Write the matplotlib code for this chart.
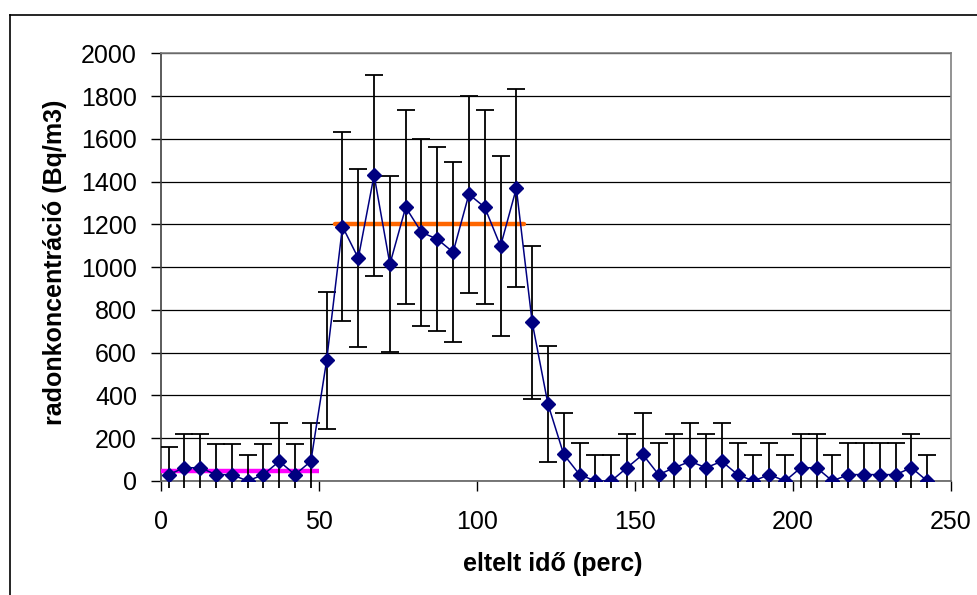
import matplotlib
matplotlib.use("Agg")
import matplotlib.pyplot as plt
from matplotlib.patches import Rectangle
from matplotlib.lines import Line2D

# measurement times (min) and radon concentration (Bq/m3) with errors
times = [2.5, 7.5, 12.5, 17.5, 22.5, 27.5, 32.5, 37.5, 42.5, 47.5,
         52.5, 57.5, 62.5, 67.5, 72.5, 77.5, 82.5, 87.5, 92.5, 97.5,
         102.5, 107.5, 112.5, 117.5, 122.5, 127.5, 132.5, 137.5, 142.5, 147.5,
         152.5, 157.5, 162.5, 167.5, 172.5, 177.5, 182.5, 187.5, 192.5, 197.5,
         202.5, 207.5, 212.5, 217.5, 222.5, 227.5, 232.5, 237.5, 242.5]
conc = [30, 62, 62, 30, 30, 0, 30, 92, 30, 92,
        565, 1190, 1042, 1430, 1014, 1280, 1163, 1131, 1070, 1341,
        1280, 1098, 1369, 743, 360, 124, 30, 0, 0, 62,
        124, 30, 62, 92, 62, 92, 30, 0, 30, 0,
        62, 62, 0, 30, 30, 30, 30, 62, 0]
err = [130, 160, 160, 145, 145, 120, 145, 180, 145, 180,
       320, 440, 416, 470, 411, 453, 437, 430, 420, 460,
       453, 422, 463, 358, 273, 195, 148, 121, 121, 160,
       195, 148, 160, 180, 160, 180, 148, 121, 148, 121,
       160, 160, 121, 148, 148, 148, 148, 160, 121]

# background level and mean level during exposure
bg_x = [0, 50]
bg_y = [48, 48]
high_x = [55, 115]
high_y = [1200, 1200]

plt.rcParams['font.family'] = ['Liberation Sans', 'DejaVu Sans']

W, H = 978, 595
fig = plt.figure(figsize=(W / 100, H / 100), dpi=100)
ax = fig.add_axes([160.7 / W, 1 - 481 / H, (951 - 160.7) / W, (481 - 53.3) / H])

# outer chart frame (only left and top visible)
fig.add_artist(Line2D([9.5 / W, 9.5 / W], [0, 1 - 15 / H], color='black', lw=1.2))
fig.add_artist(Line2D([9.5 / W, 1], [1 - 15 / H, 1 - 15 / H], color='black', lw=1.2))

ax.plot(bg_x, bg_y, color='#FF00FF', lw=3.2, solid_capstyle='butt', zorder=3)
ax.plot(high_x, high_y, color='#FF6600', lw=3.2, solid_capstyle='round', zorder=3)

eb = ax.errorbar(times, conc, yerr=err, fmt='none', ecolor='black',
                 elinewidth=1.3, capsize=6.5, capthick=1.3, zorder=4)
clip = Rectangle((0, -0.017), 1, 1.017, transform=ax.transAxes,
                 facecolor='none', edgecolor='none')
for art in eb.lines[1] + eb.lines[2]:
    art.set_clip_path(clip)

ax.plot(times, conc, color='#000080', lw=1.1, marker='D', markersize=7,
        markerfacecolor='#000080', markeredgecolor='#000080', zorder=5)

ax.set_xlim(0, 250)
ax.set_ylim(0, 2000)
ax.set_xticks([0, 50, 100, 150, 200, 250])
ax.set_yticks(range(0, 2001, 200))
ax.yaxis.grid(True, color='black', lw=0.9)
ax.set_axisbelow(True)

for side in ['top', 'right']:
    ax.spines[side].set_color('#808080')
    ax.spines[side].set_linewidth(1.2)
ax.spines['left'].set_color('#404040')
ax.spines['bottom'].set_color('#606060')
ax.spines['left'].set_linewidth(1.2)
ax.spines['bottom'].set_linewidth(1.2)

ax.tick_params(axis='both', direction='out', length=7, width=1,
               labelsize=18, colors='black')
ax.tick_params(axis='x', pad=14)
ax.tick_params(axis='y', pad=10)

fig.text(553 / W, 1 - 571 / H, 'eltelt idő (perc)', ha='center',
         va='baseline', fontsize=18, fontweight='bold')
fig.text(55 / W, 1 - 262 / H, 'radonkoncentráció (Bq/m3)', ha='center',
         va='center', rotation=90, fontsize=18, fontweight='bold')

fig.savefig('out.png', dpi=100)
